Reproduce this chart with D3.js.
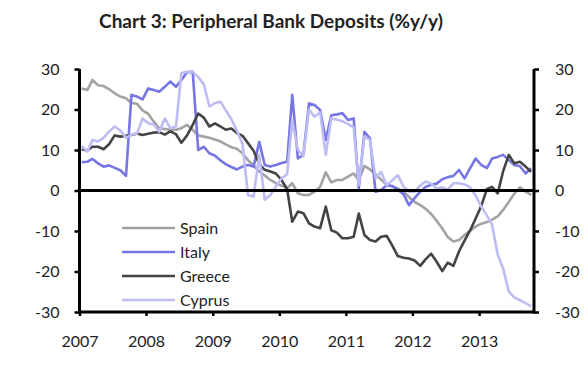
<!DOCTYPE html>
<html>
<head>
<meta charset="utf-8">
<script src="https://cdn.jsdelivr.net/npm/d3@7"></script>
<style>
  body { margin: 0; background: #fff; }
  svg { display: block; }
  text { font-family: Lato, "Open Sans", sans-serif; fill: #222; }
</style>
</head>
<body>
<svg id="chart" width="588" height="389"></svg>
<script>
// monthly % y/y, Jan 2007 .. Oct 2013
const spain = [25.2, 24.8, 27.3, 26.0, 25.8, 25.0, 24.0, 23.2, 22.8, 21.6, 21.4, 19.8,
  18.9, 17.0, 15.4, 15.2, 15.0, 15.0, 15.4, 16.2, 15.0, 13.6, 13.3, 13.0,
  12.6, 12.1, 11.4, 10.7, 10.3, 9.2, 7.5, 6.1, 4.7, 3.7, 2.6, 1.8,
  1.2, 0.6, 1.8, -0.7, -1.1, -1.1, -0.3, 0.9, 4.5, 2.0, 2.6, 2.6,
  3.4, 4.2, 2.6, 6.1, 5.2, 4.0, 2.7, 1.4, 1.0, 0.5, -0.2, -1.6,
  -2.8, -3.6, -4.5, -5.8, -7.5, -9.4, -11.5, -12.6, -12.2, -11.0, -9.9, -8.9,
  -8.2, -7.8, -7.2, -6.4, -4.8, -2.8, -0.8, 0.8, -0.3, -1.1];
const italy = [7.0, 7.1, 7.8, 6.7, 5.9, 6.2, 5.6, 5.0, 3.6, 23.6, 23.2, 22.5,
  25.2, 24.8, 24.4, 25.6, 26.9, 25.6, 27.3, 29.2, 29.3, 10.0, 10.8, 9.2,
  8.6, 7.4, 6.5, 5.8, 5.2, 5.9, 6.3, 5.9, 12.0, 6.3, 5.9, 6.3,
  6.8, 7.1, 23.6, 7.9, 8.8, 21.5, 21.1, 19.9, 12.5, 18.6, 18.8, 19.1,
  17.4, 17.8, 0.5, 14.5, 12.9, -0.3, 0.1, 1.3, 1.1, 0.2, -0.9, -3.6,
  -1.9, -0.3, 0.9, 1.4, 1.7, 2.8, 3.3, 3.6, 5.1, 3.0, 5.5, 7.9,
  6.3, 5.5, 7.9, 8.3, 8.8, 7.5, 6.3, 6.0, 4.2, 5.5];
const greece = [10.2, 9.9, 10.8, 10.8, 10.2, 11.5, 13.6, 13.3, 13.5, 13.7, 14.1, 13.7,
  14.0, 14.3, 14.4, 13.8, 14.6, 13.9, 11.8, 13.6, 16.2, 19.0, 18.0, 15.8,
  16.6, 15.8, 15.0, 15.3, 14.2, 13.5, 11.7, 9.8, 6.5, 5.1, 4.7, 4.2,
  2.6, 0.3, -7.7, -5.2, -5.6, -8.1, -8.9, -9.3, -4.0, -9.8, -10.4, -11.8,
  -11.8, -11.4, -5.7, -11.0, -12.2, -12.6, -11.4, -11.2, -13.6, -16.2, -16.6, -16.8,
  -17.3, -18.6, -17.0, -15.6, -17.6, -19.9, -17.8, -18.6, -15.0, -12.4, -9.8, -6.9,
  -3.8, 0.4, 0.9, -0.7, 4.8, 8.8, 6.7, 7.1, 5.9, 4.6];
const cyprus = [11.0, 9.6, 12.5, 12.1, 13.0, 14.6, 15.8, 14.8, 13.0, 13.8, 14.1, 17.8,
  16.6, 16.3, 14.5, 17.8, 15.4, 15.8, 29.0, 29.3, 29.3, 28.0, 26.2, 20.8,
  21.6, 21.9, 19.8, 17.6, 14.8, 11.5, -1.1, -1.5, 8.8, -2.3, -1.1, 1.0,
  3.0, 4.0, 17.4, 10.0, 8.5, 20.0, 18.2, 19.3, 8.8, 17.8, 17.5, 17.1,
  16.4, 15.6, 1.4, 13.3, 12.5, 3.0, 4.6, 1.3, 2.5, 3.8, 1.0, -0.3,
  -0.3, 1.2, 2.2, 1.7, 0.5, 0.8, 0.2, 1.8, 1.8, 1.5, 0.8, -1.3,
  -4.0, -6.2, -8.5, -15.8, -19.3, -25.0, -26.4, -27.1, -27.8, -28.6];

const seriesNames = ["Spain", "Italy", "Greece", "Cyprus"];
const seriesColors = ["#a3a3a3", "#7676e4", "#444444", "#bdbdf4"];
const yTicks = [-30, -20, -10, 0, 10, 20, 30];
const yearTicks = [2007, 2008, 2009, 2010, 2011, 2012, 2013];

const svg = d3.select("#chart");
const plotLeft = 79.5, plotRight = 534, plotTop = 69, plotBottom = 312;

const x = d3.scaleTime()
    .domain([new Date(2007, 0, 1), new Date(2013, 9, 29)])
    .range([plotLeft, plotRight]);
const y = d3.scaleLinear().domain([-30, 30]).range([plotBottom, plotTop]);

// data points sit mid-month
const dateOf = (i) => new Date(2007, i, 13);

const allSeries = [spain, italy, greece, cyprus];

// title
svg.append("text")
    .attr("x", 271).attr("y", 28)
    .attr("text-anchor", "middle")
    .style("font-size", "19px")
    .style("font-weight", "700")
    .text("Chart 3: Peripheral Bank Deposits (%y/y)");

// lines
const line = d3.line()
    .x((d, i) => x(dateOf(i)))
    .y((d) => y(d));

svg.append("g")
  .selectAll("path")
  .data(allSeries)
  .enter()
  .append("path")
    .attr("d", line)
    .attr("fill", "none")
    .attr("stroke", (d, i) => seriesColors[i])
    .attr("stroke-width", 2.6)
    .attr("stroke-linejoin", "round");

// axes (plain hyphen for negatives, like the original)
const fmt = (d) => String(d);
const leftAxis = svg.append("g")
    .attr("transform", `translate(${plotLeft},0)`)
    .call(d3.axisLeft(y).tickValues(yTicks).tickSize(5).tickPadding(15).tickFormat(fmt));
const rightAxis = svg.append("g")
    .attr("transform", `translate(${plotRight},0)`)
    .call(d3.axisRight(y).tickValues(yTicks).tickSize(5).tickPadding(16).tickFormat(fmt));
const bottomAxis = svg.append("g")
    .attr("transform", `translate(0,${plotBottom})`)
    .call(d3.axisBottom(x).tickValues(yearTicks.map((yr) => new Date(yr, 0, 1))).tickSize(4).tickFormat(d3.timeFormat("%Y")));

[leftAxis, rightAxis, bottomAxis].forEach((g) => {
  g.select(".domain").remove();
  g.selectAll(".tick line").attr("stroke", "#000").attr("stroke-width", 2.5);
  g.selectAll("text")
      .style("font-family", "Lato, 'Open Sans', sans-serif")
      .style("font-size", "16px")
      .attr("fill", "#222");
});
bottomAxis.selectAll("text").attr("y", 24);

// axis frame + zero line
const frame = svg.append("g").attr("stroke", "#000").attr("stroke-width", 3);
frame.append("line").attr("x1", plotLeft).attr("x2", plotLeft).attr("y1", plotTop).attr("y2", plotBottom + 1.5);
frame.append("line").attr("x1", plotRight).attr("x2", plotRight).attr("y1", plotTop).attr("y2", plotBottom + 1.5);
frame.append("line").attr("x1", plotLeft).attr("x2", plotRight).attr("y1", plotBottom).attr("y2", plotBottom);
frame.append("line").attr("x1", plotLeft).attr("x2", plotRight).attr("y1", y(0)).attr("y2", y(0));

// legend
const legend = svg.append("g")
  .selectAll("g")
  .data(seriesNames)
  .enter()
  .append("g")
    .attr("transform", (d, i) => `translate(122,${228 + i * 24})`);

legend.append("line")
    .attr("x1", 0).attr("x2", 53)
    .attr("stroke", (d, i) => seriesColors[i])
    .attr("stroke-width", 2.6);

legend.append("text")
    .attr("x", 58).attr("dy", "0.35em")
    .style("font-size", "16px")
    .text((d) => d);
</script>
</body>
</html>
